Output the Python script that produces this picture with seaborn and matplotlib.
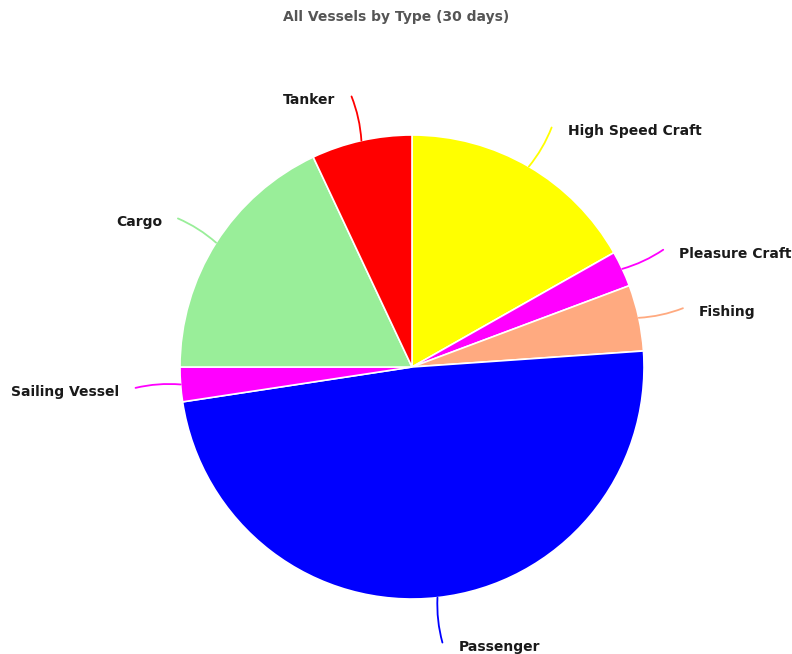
import numpy as np
import matplotlib
matplotlib.use("Agg")
import matplotlib.pyplot as plt
import seaborn as sns

# Vessel counts by type over the last 30 days (share of total, %)
vessel_types = ["High Speed Craft", "Pleasure Craft", "Fishing", "Passenger",
                "Sailing Vessel", "Cargo", "Tanker"]
vessel_share = [16.8, 2.5, 4.6, 48.7, 2.4, 18.0, 7.0]
slice_colors = ["#FFFF00", "#FF00FF", "#FFAA80", "#0000FF",
                "#FF00FF", "#99EE99", "#FF0000"]
chart_title = "All Vessels by Type (30 days)"

sns.set_theme(style="white")
plt.rcParams["font.family"] = ["DejaVu Sans"]

W, H = 792, 654
fig = plt.figure(figsize=(W / 100, H / 100), dpi=100)
ax = fig.add_axes([0, 0, 1, 1])

cx, cy, R = 412, H - 367, 232
wedges, _ = ax.pie(vessel_share, colors=slice_colors, startangle=90,
                   counterclock=False, center=(cx, cy), radius=R,
                   wedgeprops=dict(edgecolor="white", linewidth=1.2),
                   frame=True)
ax.set_xlim(0, W)
ax.set_ylim(0, H)
ax.set_aspect("equal")
ax.axis("off")

# Leader lines and labels around the pie
for w, name, col in zip(wedges, vessel_types, slice_colors):
    mid = np.deg2rad((w.theta1 + w.theta2) / 2)
    x0, y0 = cx + R * np.cos(mid), cy + R * np.sin(mid)
    x1, y1 = cx + 1.195 * R * np.cos(mid), cy + 1.195 * R * np.sin(mid)
    right = np.cos(mid) >= 0
    ax.annotate("", xy=(x1, y1), xytext=(x0, y0),
                arrowprops=dict(arrowstyle="-", color=col, lw=1.3,
                                connectionstyle="arc3,rad=0.08",
                                shrinkA=0, shrinkB=0))
    tx = x1 + (16 if right else -16)
    ax.text(tx, y1 - 4, name, ha="left" if right else "right", va="center",
            fontsize=10, fontweight="bold", color="#1a1a1a")

fig.text(0.5, 1 - 17 / H, chart_title, ha="center", va="center",
         fontsize=10, fontweight="bold", color="#555555")

fig.savefig("out.png", dpi=100, facecolor="white")
